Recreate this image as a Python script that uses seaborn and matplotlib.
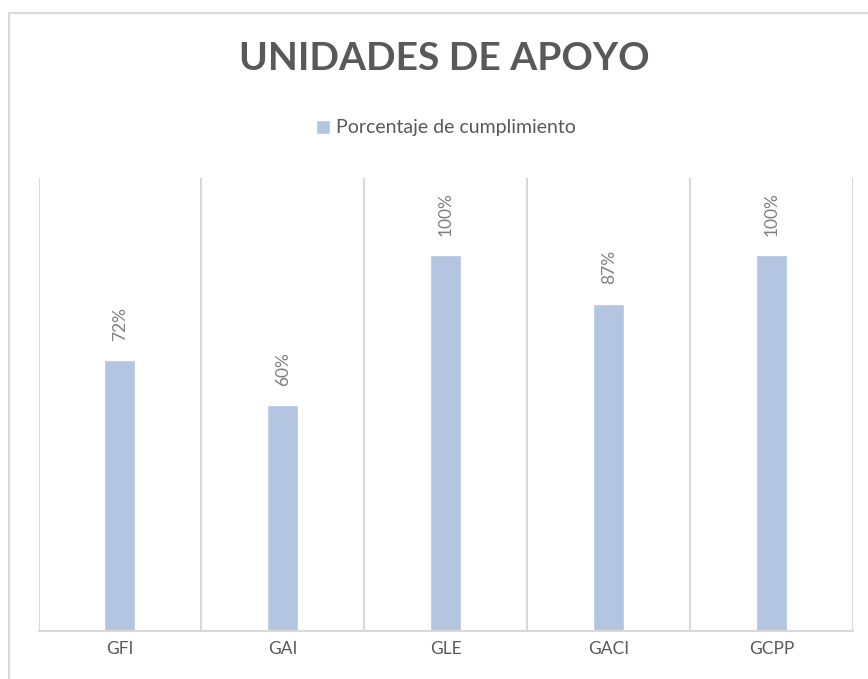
import matplotlib
matplotlib.use("Agg")
import matplotlib.pyplot as plt
import seaborn as sns
import pandas as pd
from matplotlib.patches import Rectangle

categories = ["GFI", "GAI", "GLE", "GACI", "GCPP"]
values = [72, 60, 100, 87, 100]
labels = ["72%", "60%", "100%", "87%", "100%"]
series_name = "Porcentaje de cumplimiento"
title = "UNIDADES DE APOYO"

sns.set_theme(style="white")
plt.rcParams['font.family'] = ['Lato', 'DejaVu Sans']

df = pd.DataFrame({"cat": categories, "val": values})

W, H = 868, 679
fig = plt.figure(figsize=(W / 100, H / 100), dpi=100)
ax = fig.add_axes([38.5 / W, (H - 631) / H, (853 - 38.5) / W, (631 - 178) / H])

bar_color = "#B4C5E2"
sns.barplot(data=df, x="cat", y="val", color=bar_color, width=0.19, ax=ax,
            saturation=1, label=series_name)

ax.set_xlim(-0.5, len(categories) - 0.5)
ax.set_ylim(0, 120.5)
ax.set_xlabel("")
ax.set_ylabel("")
ax.set_yticks([])
for s in ["top", "left", "right"]:
    ax.spines[s].set_visible(False)
ax.spines["bottom"].set_color("#D9D9D9")
ax.spines["bottom"].set_linewidth(1.5)

for b in [i - 0.5 for i in range(len(categories) + 1)]:
    ax.axvline(b, color="#D9D9D9", lw=1.5, zorder=0)

ax.tick_params(axis="x", length=0, pad=7, labelsize=12.5, labelcolor="#595959")

for i, (v, lab) in enumerate(zip(values, labels)):
    ax.annotate(lab, (i, v), xytext=(0, 14), textcoords="offset points",
                rotation=90, ha="center", va="bottom", fontsize=12.5, color="#7F7F7F")

leg = ax.legend(loc="center", bbox_to_anchor=(446 / W, (H - 128) / H),
                bbox_transform=fig.transFigure, frameon=False, fontsize=14,
                handlelength=0.75, handleheight=0.75, handletextpad=0.3)
for t in leg.get_texts():
    t.set_color("#595959")

fig.text(444 / W, (H - 58) / H, title, ha="center", va="center",
         fontsize=28, fontweight="bold", color="#595959")

top = (H - 13) / H
fig.patches.append(Rectangle((9 / W, -0.1), 2, top + 0.1, transform=fig.transFigure,
                             fill=False, edgecolor="#D9D9D9", lw=1.5))

fig.savefig("out.png", dpi=100)
